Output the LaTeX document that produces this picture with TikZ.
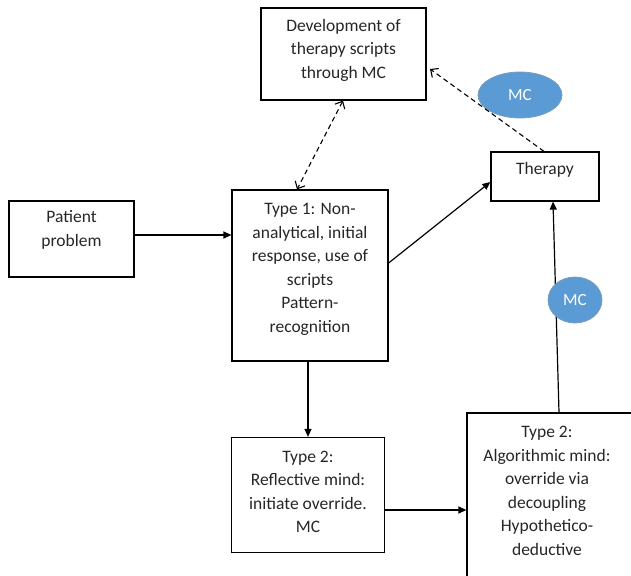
\documentclass[tikz,border=0pt]{standalone}
\usepackage{fontspec}
\setmainfont{Carlito}
\usetikzlibrary{arrows.meta,shapes.geometric}
\definecolor{mcblue}{HTML}{5B9BD5}
\definecolor{mcedge}{HTML}{41719C}
\tikzset{
  box/.style={draw=black,line width=1.2pt,rectangle,inner sep=0pt},
  txt/.style={align=center,inner sep=0pt,text=black!85,font=\fontsize{17.5}{23.5}\selectfont},
  mc/.style={ellipse,fill=mcblue,draw=mcedge!70,line width=0.8pt,text=white,inner sep=0pt,font=\fontsize{17}{18}\selectfont},
  conn/.style={line width=1.2pt,-{Triangle[length=8pt,width=7pt]}},
  dconn/.style={line width=1.1pt,dash pattern=on 5pt off 3.5pt,-{Straight Barb[length=6pt,width=11pt]}},
}
\begin{document}
\begin{tikzpicture}[x=1pt,y=-1pt]
\useasboundingbox (0,0) rectangle (631,575);
\clip (0,0) rectangle (631,575);
% boxes
\node[box,minimum width=165pt,minimum height=92pt] (dev) at (343.5,54) {};
\node[txt] (devt) at (343.5,50) {Development of\\therapy scripts\\through MC};
\node[box,minimum width=108pt,minimum height=49pt] (ther) at (545,176.5) {};
\node[txt] (thert) at (545,170) {Therapy};
\node[box,minimum width=125pt,minimum height=76pt] (pat) at (71.5,239) {};
\node[txt] (patt) at (71.5,230) {Patient\\problem};
\node[box,minimum width=156pt,minimum height=171pt] (t1) at (310,275.5) {};
\node[txt] (t1t) at (310,269.5) {Type 1: Non-\\analytical, initial\\response, use of\\scripts\\Pattern-\\recognition};
\node[box,minimum width=153pt,minimum height=115pt] (ref) at (308,495) {};
\node[txt] (reft) at (308,492) {Type 2:\\Reflective mind:\\initiate override.\\MC};
\node[box,minimum width=180pt,minimum height=180pt] (alg) at (557,503) {};
\node[txt] (algt) at (547,491) {Type 2:\\Algorithmic mind:\\override via\\decoupling\\Hypothetico-\\deductive};
% ellipses
\node[mc,minimum width=84pt,minimum height=46pt] (mc1) at (520,95) {MC};
% connectors
\draw[conn] (pat.east |- 0,235) -- (t1.west |- 0,235);
\draw[conn] (t1.east |- 0,263) -- (ther.west |- 0,182);
\draw[conn] (t1.south -| 308,0) -- (ref.north -| 308,0);
\draw[conn] (ref.east |- 0,510) -- (alg.west |- 0,510);
\draw[conn] (alg.north -| 559,0) -- (ther.south -| 553,0);
\draw[dconn,{Straight Barb[length=6pt,width=11pt]}-{Straight Barb[length=6pt,width=11pt]}] (dev.south -| 343,0) -- (t1.north -| 297,0);
\draw[dconn] (ther.north -| 544,0) -- (430,69) coordinate (devtip);
\node[mc,minimum width=54pt,minimum height=46pt] (mc2) at (575,300) {MC};
\end{tikzpicture}
\end{document}
